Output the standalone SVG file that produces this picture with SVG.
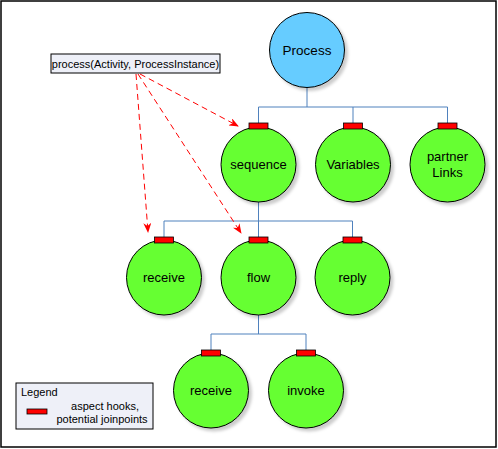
<svg xmlns="http://www.w3.org/2000/svg" width="498" height="449" viewBox="0 0 498 449">
<defs>
<filter id="sh" x="-20%" y="-20%" width="150%" height="150%">
<feDropShadow dx="3" dy="3" stdDeviation="1.5" flood-color="#000" flood-opacity="0.2"/>
</filter>
<marker id="ah" markerWidth="10" markerHeight="8" refX="9" refY="4" orient="auto" markerUnits="userSpaceOnUse">
<path d="M0,0 L10,4 L0,8 L3,4 Z" fill="#ff0000"/>
</marker>
<style>
.node{fill:#66ff33;stroke:#000;stroke-width:1;filter:url(#sh)}
.root{fill:#66ccff;stroke:#000;stroke-width:1;filter:url(#sh)}
.hook{fill:#ff0000;stroke:#000;stroke-width:0.8}
.lbl{font-family:"Liberation Sans",Arial,sans-serif;font-size:13px;fill:#000;text-anchor:middle}
.tree{fill:none;stroke:#4f81bd;stroke-width:1}
.dash{fill:none;stroke:#ff0000;stroke-width:1;stroke-dasharray:6,4;marker-end:url(#ah)}
.box{fill:#eef0f8;stroke:#000;stroke-width:1}
.small{font-family:"Liberation Sans",Arial,sans-serif;font-size:11px;fill:#000}
</style>
</defs>
<rect x="1" y="1" width="495" height="446" fill="#fff" stroke="#000" stroke-width="1.5"/>
<g id="connectors">
<path class="tree" d="M307,88 V107 M258.5,107 H447.5 M258.5,107 V123 M353,107 V123 M447.5,107 V123"/>
<path class="tree" d="M258.5,202 V221 M164,221 H352.5 M164,221 V237 M258.5,221 V237 M352.5,221 V237"/>
<path class="tree" d="M258.5,315 V334 M211,334 H306 M211,334 V350 M306,334 V350"/>
<path class="dash" d="M140,74 L238,126"/>
<path class="dash" d="M136,74 L148,232"/>
<path class="dash" d="M138,74 L241,233"/>
</g>
<g id="process">
<circle class="root" cx="307" cy="50" r="37.5"/>
<text class="lbl" x="307" y="54.5" style="font-size:13.5px">Process</text>
</g>
<g id="label">
<rect class="box" x="51" y="54" width="169" height="19"/>
<text class="small" x="135.5" y="67.5" text-anchor="middle">process(Activity, ProcessInstance)</text>
</g>
<g id="sequence">
<circle class="node" cx="258.5" cy="164.5" r="37.5"/>
<rect class="hook" x="249" y="123" width="19" height="6"/>
<text class="lbl" x="258.5" y="169">sequence</text>
</g>
<g id="variables">
<circle class="node" cx="353" cy="164.5" r="37.5"/>
<rect class="hook" x="343.5" y="123" width="19" height="6"/>
<text class="lbl" x="353" y="169">Variables</text>
</g>
<g id="partnerLinks">
<circle class="node" cx="447.5" cy="164.5" r="37.5"/>
<rect class="hook" x="438" y="123" width="19" height="6"/>
<text class="lbl" x="447.5" y="161">partner</text>
<text class="lbl" x="447.5" y="177">Links</text>
</g>
<g id="receive1">
<circle class="node" cx="164" cy="277.5" r="37.5"/>
<rect class="hook" x="154.5" y="237" width="19" height="6"/>
<text class="lbl" x="164" y="282">receive</text>
</g>
<g id="flow">
<circle class="node" cx="258.5" cy="277.5" r="37.5"/>
<rect class="hook" x="249" y="237" width="19" height="6"/>
<text class="lbl" x="258.5" y="282">flow</text>
</g>
<g id="reply">
<circle class="node" cx="352.5" cy="277.5" r="37.5"/>
<rect class="hook" x="343" y="237" width="19" height="6"/>
<text class="lbl" x="352.5" y="282">reply</text>
</g>
<g id="receive2">
<circle class="node" cx="211" cy="390.5" r="37.5"/>
<rect class="hook" x="201.5" y="350" width="19" height="6"/>
<text class="lbl" x="211" y="395">receive</text>
</g>
<g id="invoke">
<circle class="node" cx="306" cy="390.5" r="37.5"/>
<rect class="hook" x="296.5" y="350" width="19" height="6"/>
<text class="lbl" x="306" y="395">invoke</text>
</g>
<g id="legend">
<rect class="box" x="16" y="383" width="137" height="46"/>
<text class="small" x="21" y="396">Legend</text>
<rect class="hook" x="27" y="409" width="20" height="5"/>
<text class="small" x="105" y="410" text-anchor="middle">aspect hooks,</text>
<text class="small" x="102" y="423" text-anchor="middle">potential joinpoints</text>
</g>
</svg>
